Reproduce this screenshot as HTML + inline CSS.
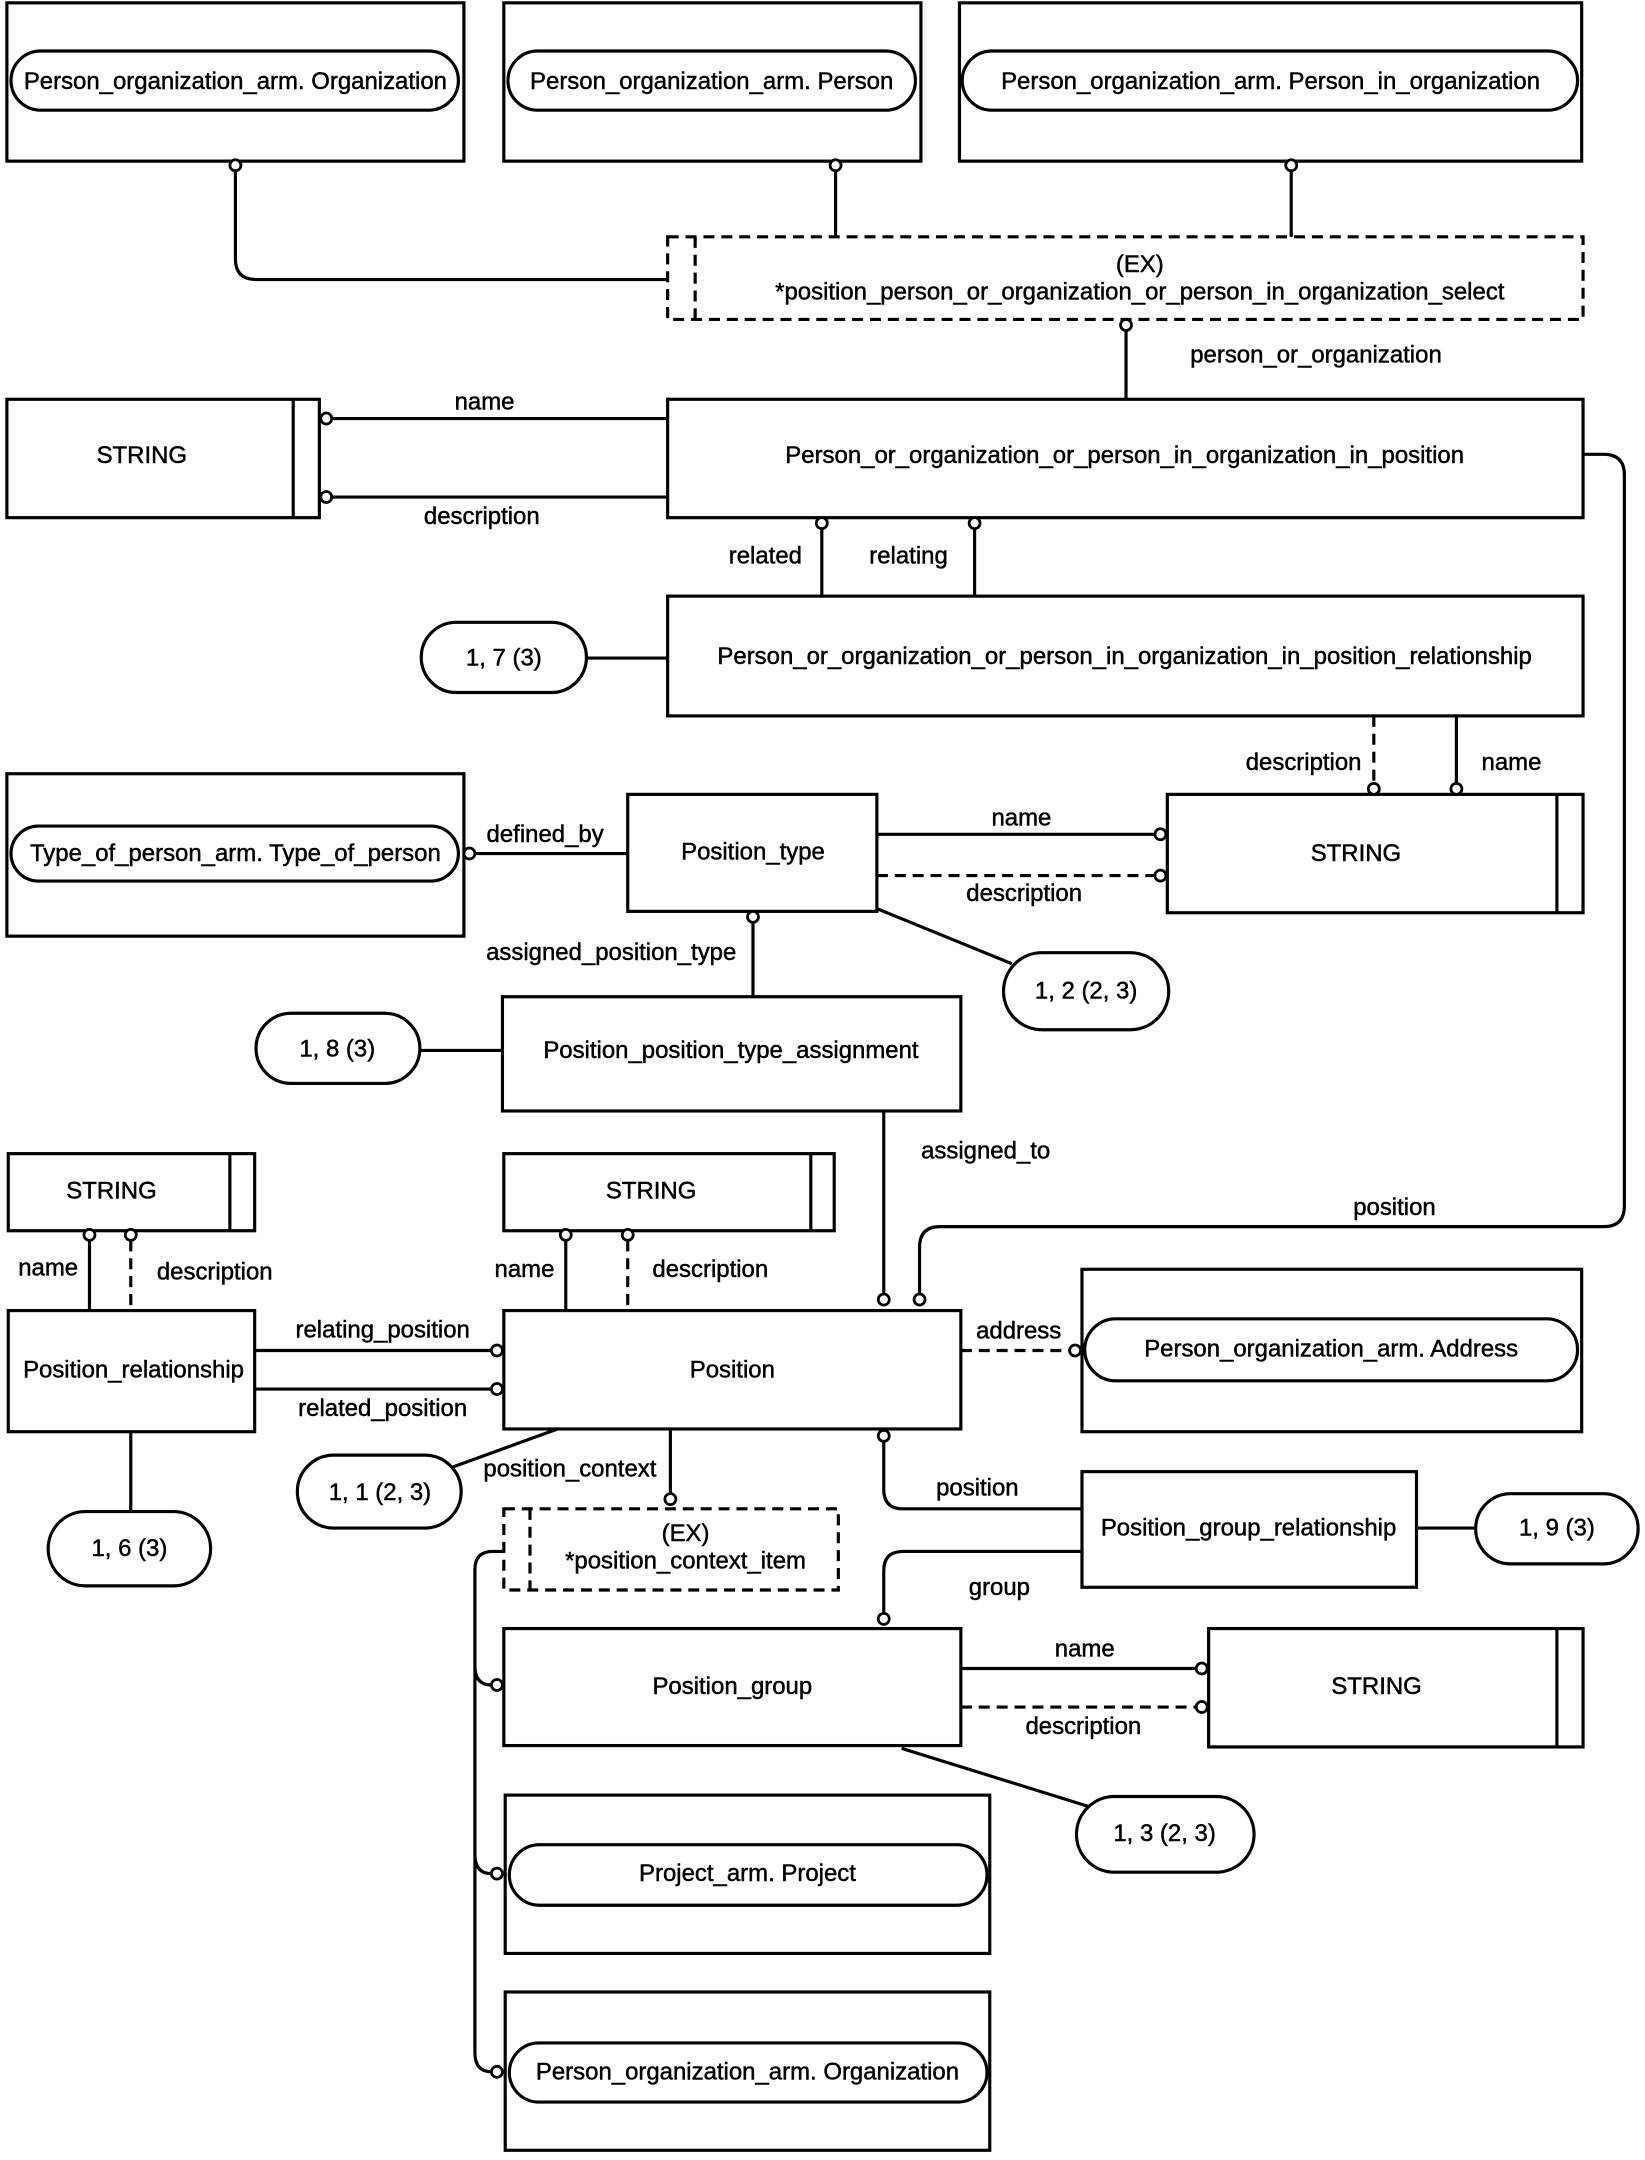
<!DOCTYPE html>
<html><head><meta charset="utf-8"><style>
html,body{margin:0;padding:0;background:#fff;}
svg{display:block;}
text{font-family:"Liberation Sans",Arial,sans-serif;font-size:17.4px;fill:#000;stroke:#000;stroke-width:0.35px;}
</style></head><body>
<svg width="1645" height="2160" viewBox="0 0 1195 1569" xmlns="http://www.w3.org/2000/svg">
<g fill="none" stroke="#000" stroke-width="2.3">
<rect x="5" y="2" width="332" height="115"/>
<rect x="8" y="37" width="325" height="43" rx="21.5"/>
<rect x="366" y="2" width="303" height="115"/>
<rect x="369" y="37" width="296" height="43" rx="21.5"/>
<rect x="697" y="2" width="452" height="115"/>
<rect x="699" y="37" width="447" height="43" rx="21.5"/>
<path d="M171,124 V188 Q171,203 186,203 H485"/>
<path d="M607,124 V172"/>
<path d="M938,124 V172"/>
<rect x="485" y="172" width="665" height="60" stroke-dasharray="8,5"/>
<path d="M505,172 V232" stroke-dasharray="8,5"/>
<path d="M818,240 V290"/>
<rect x="5" y="290" width="227" height="86"/>
<path d="M213,290 V376"/>
<path d="M241,304 H485 M241,361 H485"/>
<rect x="485" y="290" width="665" height="86"/>
<path d="M597,384 V433 M708,384 V433"/>
<rect x="485" y="433" width="665" height="87"/>
<rect x="306" y="452" width="120" height="51" rx="25.5"/>
<path d="M426,478 H485"/>
<path d="M998,520 V569" stroke-dasharray="8,5"/>
<path d="M1058,520 V569"/>
<rect x="848" y="577" width="302" height="86"/>
<path d="M1131,577 V663"/>
<rect x="456" y="577" width="181" height="85"/>
<rect x="5" y="562" width="332" height="118"/>
<rect x="8" y="600" width="325" height="40" rx="20"/>
<path d="M345,620 H456"/>
<path d="M637,606 H839"/>
<path d="M637,636 H839" stroke-dasharray="8,5"/>
<path d="M637,660 L735,700"/>
<rect x="729" y="692" width="120" height="56" rx="28"/>
<path d="M547,670 V724"/>
<rect x="365" y="724" width="333" height="83"/>
<rect x="186" y="736" width="119" height="51" rx="25.5"/>
<path d="M305,763 H365"/>
<path d="M642,807 V940"/>
<path d="M1150,330 H1165 Q1180,330 1180,345 V876 Q1180,891 1165,891 H683 Q668,891 668,906 V940"/>
<rect x="6" y="838" width="179" height="56"/>
<path d="M167,838 V894"/>
<path d="M65,901 V952"/>
<path d="M95,901 V952" stroke-dasharray="8,5"/>
<rect x="366" y="838" width="240" height="56"/>
<path d="M589,838 V894"/>
<path d="M411,901 V952"/>
<path d="M456,901 V952" stroke-dasharray="8,5"/>
<rect x="6" y="952" width="179" height="88"/>
<rect x="366" y="952" width="332" height="86"/>
<path d="M185,981 H357 M185,1009 H357"/>
<path d="M95,1040 V1098"/>
<rect x="35" y="1098" width="118" height="54" rx="27"/>
<path d="M698,981 H777" stroke-dasharray="8,5"/>
<rect x="786" y="922" width="363" height="118"/>
<rect x="788" y="958" width="358" height="45" rx="22.5"/>
<path d="M405,1038 L328,1066"/>
<rect x="216" y="1057" width="119" height="53" rx="26.5"/>
<path d="M487,1038 V1085"/>
<rect x="366" y="1096" width="243" height="59" stroke-dasharray="8,5"/>
<path d="M385,1096 V1155" stroke-dasharray="8,5"/>
<path d="M366,1127 H358 Q345,1127 345,1140 V1491 Q345,1505 357,1505"/>
<path d="M345,1210 Q345,1224 357,1224 M345,1347 Q345,1361 357,1361"/>
<path d="M642,1047 V1082 Q642,1096 656,1096 H786"/>
<rect x="786" y="1069" width="243" height="84"/>
<rect x="1072" y="1085" width="118" height="51" rx="25.5"/>
<path d="M1029,1110 H1072"/>
<path d="M786,1127 H656 Q642,1127 642,1141 V1172"/>
<rect x="366" y="1183" width="332" height="85"/>
<path d="M698,1212 H869"/>
<path d="M698,1240 H869" stroke-dasharray="8,5"/>
<rect x="878" y="1183" width="272" height="86"/>
<path d="M1131,1183 V1269"/>
<path d="M655,1270 L790,1312"/>
<rect x="782" y="1305" width="129" height="55" rx="27.5"/>
<rect x="367" y="1304" width="352" height="115"/>
<rect x="370" y="1340" width="347" height="44" rx="22"/>
<rect x="367" y="1447" width="352" height="115"/>
<rect x="370" y="1484" width="347" height="43" rx="21.5"/>
</g>
<g fill="#fff" stroke="#000" stroke-width="2">
<circle cx="171" cy="120" r="4"/><circle cx="607" cy="120" r="4"/><circle cx="938" cy="120" r="4"/>
<circle cx="818" cy="236" r="4"/>
<circle cx="237" cy="304" r="4"/><circle cx="237" cy="361" r="4"/>
<circle cx="597" cy="380" r="4"/><circle cx="708" cy="380" r="4"/>
<circle cx="998" cy="573" r="4"/><circle cx="1058" cy="573" r="4"/>
<circle cx="341" cy="620" r="4"/>
<circle cx="843" cy="606" r="4"/><circle cx="843" cy="636" r="4"/>
<circle cx="547" cy="666" r="4"/>
<circle cx="642" cy="944" r="4"/><circle cx="668" cy="944" r="4"/>
<circle cx="65" cy="897" r="4"/><circle cx="95" cy="897" r="4"/>
<circle cx="411" cy="897" r="4"/><circle cx="456" cy="897" r="4"/>
<circle cx="361" cy="981" r="4"/><circle cx="361" cy="1009" r="4"/>
<circle cx="781" cy="981" r="4"/>
<circle cx="487" cy="1089" r="4"/>
<circle cx="642" cy="1043" r="4"/>
<circle cx="642" cy="1176" r="4"/>
<circle cx="873" cy="1212" r="4"/><circle cx="873" cy="1240" r="4"/>
<circle cx="361" cy="1224" r="4"/><circle cx="361" cy="1361" r="4"/><circle cx="361" cy="1505" r="4"/>
</g>
<g text-anchor="middle" dominant-baseline="central">
<text x="171" y="59">Person_organization_arm. Organization</text>
<text x="517" y="59">Person_organization_arm. Person</text>
<text x="923" y="59">Person_organization_arm. Person_in_organization</text>
<text x="828" y="192">(EX)</text>
<text x="828" y="212">*position_person_or_organization_or_person_in_organization_select</text>
<text x="956" y="258">person_or_organization</text>
<text x="103" y="331">STRING</text>
<text x="352" y="292">name</text>
<text x="350" y="375">description</text>
<text x="817" y="331">Person_or_organization_or_person_in_organization_in_position</text>
<text x="556" y="404">related</text>
<text x="660" y="404">relating</text>
<text x="817" y="477">Person_or_organization_or_person_in_organization_in_position_relationship</text>
<text x="366" y="478">1, 7 (3)</text>
<text x="947" y="554">description</text>
<text x="1098" y="554">name</text>
<text x="985" y="620">STRING</text>
<text x="547" y="619">Position_type</text>
<text x="171" y="620">Type_of_person_arm. Type_of_person</text>
<text x="396" y="606">defined_by</text>
<text x="742" y="594">name</text>
<text x="744" y="649">description</text>
<text x="789" y="720">1, 2 (2, 3)</text>
<text x="444" y="692">assigned_position_type</text>
<text x="531" y="763">Position_position_type_assignment</text>
<text x="245" y="762">1, 8 (3)</text>
<text x="716" y="836">assigned_to</text>
<text x="1013" y="877">position</text>
<text x="81" y="865">STRING</text>
<text x="473" y="865">STRING</text>
<text x="35" y="921">name</text>
<text x="156" y="924">description</text>
<text x="381" y="922">name</text>
<text x="516" y="922">description</text>
<text x="97" y="995">Position_relationship</text>
<text x="532" y="995">Position</text>
<text x="278" y="966">relating_position</text>
<text x="278" y="1023">related_position</text>
<text x="740" y="967">address</text>
<text x="967" y="980">Person_organization_arm. Address</text>
<text x="94" y="1125">1, 6 (3)</text>
<text x="276" y="1084">1, 1 (2, 3)</text>
<text x="414" y="1067">position_context</text>
<text x="498" y="1114">(EX)</text>
<text x="498" y="1134">*position_context_item</text>
<text x="710" y="1081">position</text>
<text x="907" y="1110">Position_group_relationship</text>
<text x="1131" y="1110">1, 9 (3)</text>
<text x="726" y="1153">group</text>
<text x="532" y="1225">Position_group</text>
<text x="788" y="1198">name</text>
<text x="787" y="1254">description</text>
<text x="1000" y="1225">STRING</text>
<text x="846" y="1332">1, 3 (2, 3)</text>
<text x="543" y="1361">Project_arm. Project</text>
<text x="543" y="1505">Person_organization_arm. Organization</text>
</g>
</svg>
</body></html>
